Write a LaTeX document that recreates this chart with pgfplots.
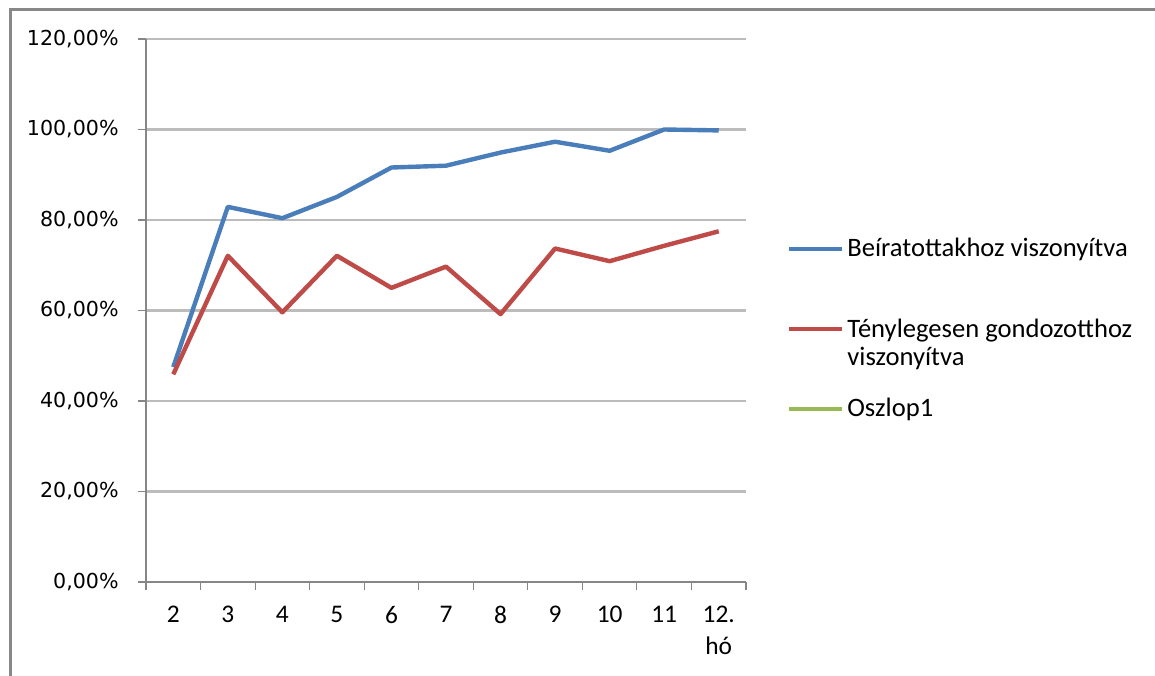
\documentclass[border=0pt]{standalone}
\usepackage{fontspec}
\setmainfont{Carlito}
\newfontfamily\tickfont{DejaVu Sans}
\usepackage{pgfplots}
\pgfplotsset{compat=1.18}

\definecolor{exblue}{RGB}{74,126,187}
\definecolor{exred}{RGB}{190,75,72}
\definecolor{exgreen}{RGB}{152,185,84}
\definecolor{exaxis}{RGB}{134,134,134}
\definecolor{exgrid}{RGB}{188,188,188}
\definecolor{exframe}{RGB}{136,136,136}

\begin{document}
\begin{tikzpicture}
\useasboundingbox (0,0) rectangle (577.5pt,337.5pt);
% chart border (only left and top edges are inside the picture)
\draw[exframe, line width=1.3pt] (5.25pt,-2pt) -- (5.25pt,332.75pt) -- (580pt,332.75pt);

\begin{axis}[
    at={(73pt,46.5pt)}, anchor=south west,
    scale only axis,
    width=300pt, height=271.5pt,
    xmin=1.5, xmax=12.5,
    ymin=0, ymax=120,
    axis x line*=bottom, axis y line*=left,
    axis line style={exaxis, line width=0.55pt, -},
    xtick={1.5,2.5,...,12.5},
    x tick label as interval,
    xticklabels={2,3,4,5,6,7,8,9,10,11,{12.\\hó}},
    ytick={0,20,...,120},
    yticklabels={{0,00\%},{20,00\%},{40,00\%},{60,00\%},{80,00\%},{100,00\%},{120,00\%}},
    tick align=outside,
    major tick length=4pt,
    tick style={exaxis, line width=0.55pt},
    ymajorgrids,
    grid style={exgrid, line width=1.1pt},
    xticklabel style={font=\fontsize{12.7}{15.8}\selectfont, align=center, inner sep=0pt, anchor=north, yshift=-8pt},
    yticklabel style={font=\tickfont\fontsize{10.3}{12}\selectfont, inner sep=0pt, anchor=east, xshift=-9.5pt},
    legend style={at={(1.0683,0.6335)}, anchor=north west, draw=none, fill=none,
        inner sep=0pt, outer sep=0pt, column sep=1.5pt, row sep=29pt,
        font=\fontsize{13.3}{14.2}\selectfont,
        cells={anchor=base west},
        nodes={inner sep=0pt}},
    legend cell align=left,
    legend image code/.code={\draw[#1] (0pt,0pt) -- (26.5pt,0pt);},
]
\addplot[exblue, line width=2.2pt, line join=round] coordinates {
    (2,47.5) (3,82.9) (4,80.4) (5,85.1) (6,91.6) (7,92.0)
    (8,94.9) (9,97.3) (10,95.3) (11,100.0) (12,99.8)
};
\addlegendentry{Beíratottakhoz viszonyítva}
\addplot[exred, line width=2.2pt, line join=round] coordinates {
    (2,45.9) (3,72.1) (4,59.6) (5,72.1) (6,65.0) (7,69.7)
    (8,59.2) (9,73.7) (10,70.9) (11,74.3) (12,77.5)
};
\addlegendentry{\begin{tabular}[t]{@{}l@{}}Ténylegesen gondozotthoz\\viszonyítva\end{tabular}}
\addlegendimage{exgreen, line width=2.2pt}
\addlegendentry{Oszlop1}
\end{axis}
\end{tikzpicture}
\end{document}
